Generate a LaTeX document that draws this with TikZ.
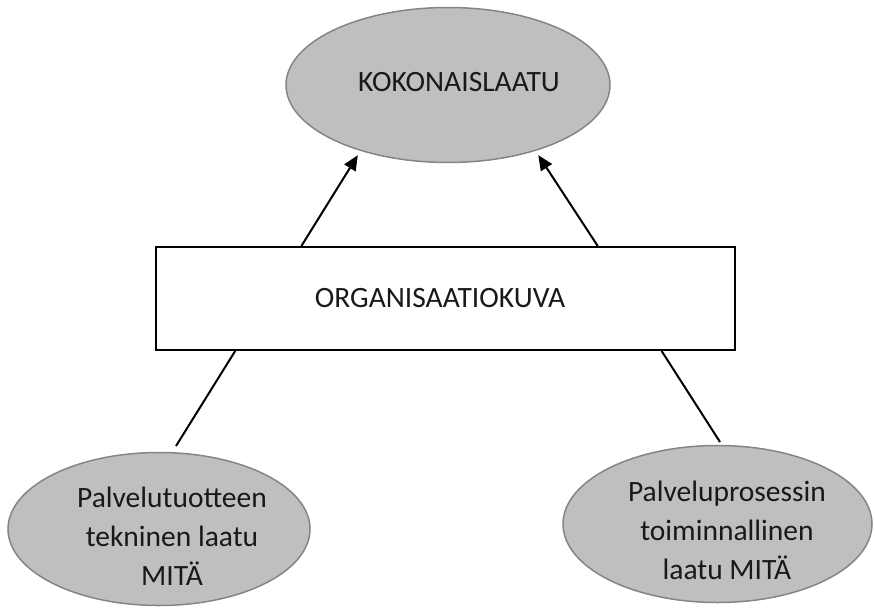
\documentclass[tikz,border=0pt]{standalone}
\usepackage{fontspec}
\setmainfont{Carlito}
\usetikzlibrary{arrows.meta,calc,shapes.geometric}
\definecolor{blobfill}{HTML}{BFBFBF}
\definecolor{blobline}{HTML}{858585}
\tikzset{
  blob/.style={ellipse, draw=blobline, line width=1.5pt, fill=blobfill, inner sep=0pt},
  framebox/.style={draw=black, line width=2pt, fill=white, inner sep=0pt},
  txt/.style={font=\fontsize{29.5pt}{39pt}\selectfont, align=center, inner sep=0pt, text=black!90},
  link/.style={draw=black, line width=2pt},
  uparrow/.style={link, shorten >=5pt, -{Triangle[length=15pt,width=13pt]}}
}
\begin{document}
\begin{tikzpicture}[x=1pt,y=-1pt]
  \useasboundingbox (0,0) rectangle (875,608);

  % shapes
  \node[blob, minimum width=324pt, minimum height=155pt] (total) at (448,85) {};
  \node[framebox, minimum width=579pt, minimum height=103pt] (org) at (445.5,298.5) {};
  \node[blob, minimum width=302pt, minimum height=153pt] (tech) at (159,529) {};
  \node[blob, minimum width=309pt, minimum height=157pt] (func) at (717.5,524) {};

  % texts
  \node[txt, anchor=base] (totaltxt) at (459,91) {KOKONAISLAATU};
  \node[txt, anchor=base] (orgtxt) at (440,307) {ORGANISAATIOKUVA};
  \node[txt] (techtxt) at (172,536) {Palvelutuotteen\\tekninen laatu\\MITÄ};
  \node[txt] (functxt) at (727,530) {Palveluprosessin\\toiminnallinen\\laatu MITÄ};

  % connectors
  \draw[uparrow] ($(org.north west)!0.252!(org.north east)$) -- (total.217);
  \draw[uparrow] ($(org.north west)!0.762!(org.north east)$) -- (total.-37);

  \coordinate (techend) at (176,446);
  \coordinate (funcend) at (720,442);
  \draw[link] ($(org.south west)!0.138!(org.south east)$) -- (techend);
  \draw[link] ($(org.south west)!0.872!(org.south east)$) -- (funcend);
\end{tikzpicture}
\end{document}
